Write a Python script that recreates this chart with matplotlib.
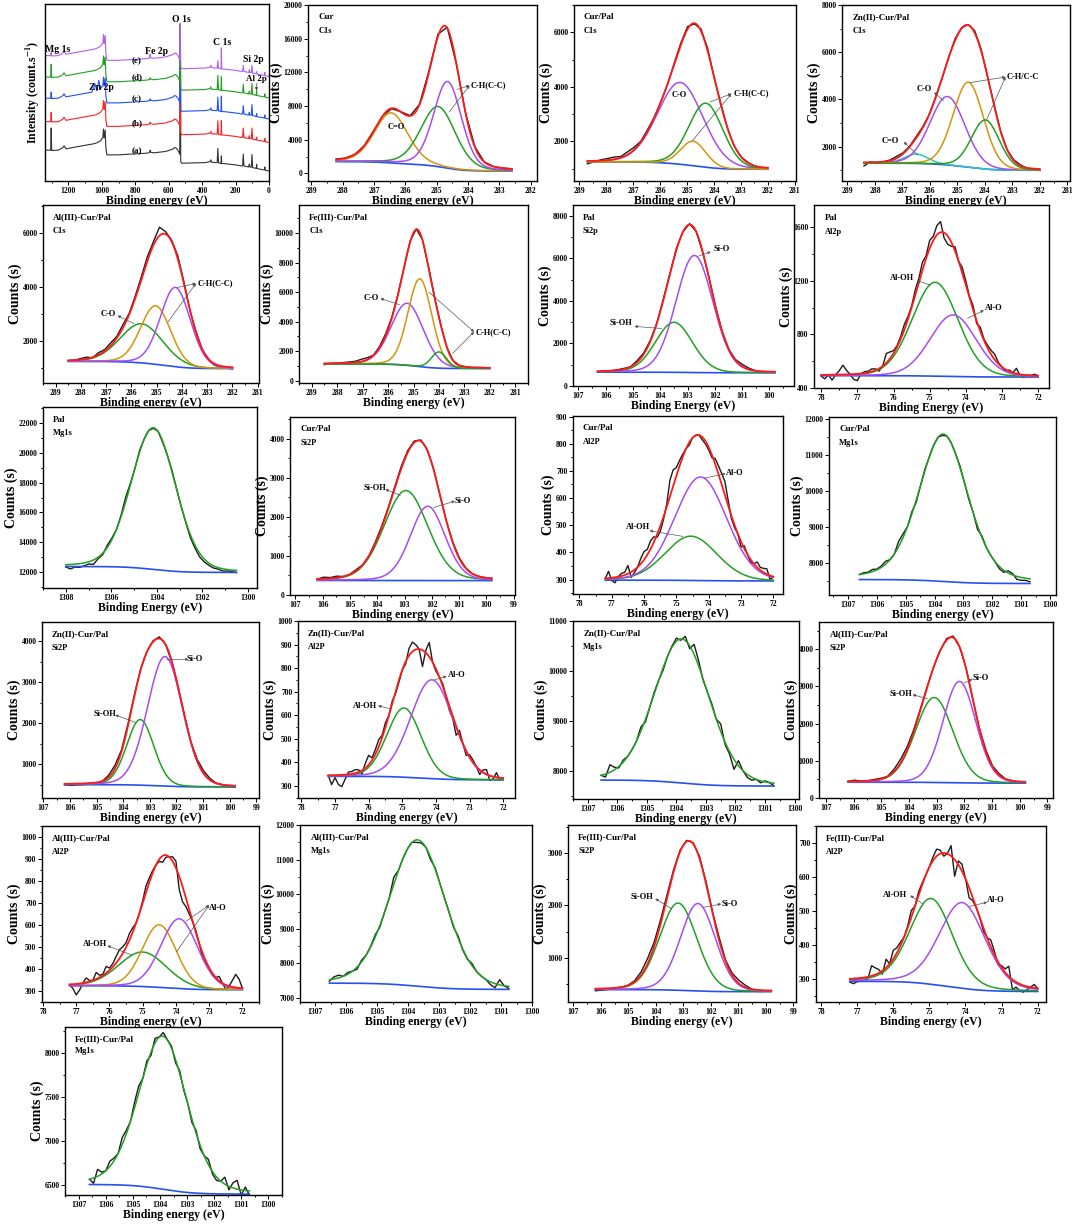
import numpy as np
import matplotlib.pyplot as plt
from matplotlib.ticker import MultipleLocator, FormatStrFormatter

plt.rcParams["font.family"] = ["Liberation Serif", "DejaVu Serif"]
plt.rcParams["font.weight"] = "bold"
plt.rcParams["axes.labelweight"] = "bold"
plt.rcParams["mathtext.fontset"] = "stix"

W, H = 1072, 1228

BLACK = "#1c1c1c"
RED = "#ff1a1a"
BLUE = "#2850f0"
GREEN = "#22a022"
PURPLE = "#a64cf0"
ORANGE = "#d4950a"
CYAN = "#2cc4c4"

# ---------------- survey spectra (relative intensity) ----------------
survey_energy = [1340, 1310, 1306, 1303, 1300, 1260, 1232, 1226, 1215, 1150, 1060, 1040,
                 1030, 1018, 1008, 1005, 994, 990, 986, 980, 976, 970, 900, 800, 730, 714,
                 711, 708, 690, 620, 575, 565, 555, 545, 538, 534, 531, 528, 522, 450, 380,
                 352, 348, 344, 320, 310, 306, 302, 290, 287, 285, 283, 270, 200, 165, 158,
                 154, 150, 125, 121, 118, 115, 106, 102, 98, 80, 76, 74, 72, 40, 28, 25, 22, 0]
survey_base = [92, 92, 92, 92, 91, 92, 100, 105, 96, 102, 110, 112,
               114, 117, 120, 122, 130, 155, 128, 152, 100, 78, 78, 81, 83, 85,
               86, 86, 84, 88, 95, 100, 98, 92, 85, 80, 80, 58, 53, 54, 55,
               58, 63, 56, 55, 55, 55, 54, 53, 53, 53, 52, 52, 48, 45, 45,
               45, 45, 42, 42, 50, 42, 41, 41, 40, 38, 38, 38, 37, 34, 33, 42, 32, 30]
survey_peak_energy = [1303, 1040, 1018, 711, 531, 306, 285, 154, 102, 74]
survey_peak_a = [66, 0, 0, 6, 383, 42, 22, 35, 38, 12]
survey_peak_b = [28, 0, 0, 4, 303, 40, 42, 28, 32, 8]
survey_peak_c = [18, 22, 28, 4, 233, 40, 45, 25, 32, 8]
survey_peak_d = [38, 0, 0, 4, 168, 42, 40, 25, 32, 14]
survey_peak_e = [10, 0, 0, 10, 108, 22, 62, 18, 22, 6]
survey_offset = [0, 85, 155, 218, 282]
survey_names = ["(a)", "(b)", "(c)", "(d)", "(e)"]

# ---------------- C1s fits ----------------
cur_c1s_span = [288.2, 282.6]
cur_c1s_bg = [1400, 280]
cur_c1s_center = [286.45, 284.95, 284.65]
cur_c1s_height = [5950, 7150, 10300]
cur_c1s_fwhm = [1.26, 1.3, 1.05]
cur_c1s_eta = 0.2
cur_c1s_raw = [60, 0, 0, 0, 50, 0, -80, 0, 0, 0, 120, 200, 0, -100, 0, 50, 0, 0, 0, 0]

curpal_c1s_span = [288.7, 282.0]
curpal_c1s_bg = [1250, 980]
curpal_c1s_center = [285.25, 284.3, 284.77]
curpal_c1s_height = [3000, 2350, 900]
curpal_c1s_fwhm = [2.0, 1.5, 1.1]
curpal_c1s_eta = 0.1
curpal_c1s_raw = [-100, -40, 30, 60, 80, 40, 100, 90, 30, 60, 20, 0, -30, 40, 60, 80,
                  -40, 60, 80, -20, 30, 0, -20, 0, 20, -10, -30, 0]

zn_c1s_span = [288.4, 282.0]
zn_c1s_bg = [1300, 1000]
zn_c1s_center = [286.5, 285.36, 284.6, 283.98]
zn_c1s_height = [400, 2900, 3600, 2080]
zn_c1s_fwhm = [1.0, 1.5, 1.3, 1.2]
zn_c1s_eta = 0.1
zn_c1s_raw = [-150, 20, -60, 0, 30, 80, 40, 20, 60, 40, 0, 20, -40, 0, 60, 20, 0, 80,
              60, -30, 40, 0, 0, 30, 40, -20, -40, -60]

al_c1s_span = [288.5, 282.0]
al_c1s_bg = [1250, 985]
al_c1s_center = [285.6, 285.04, 284.26]
al_c1s_height = [1450, 2170, 2940]
al_c1s_fwhm = [2.0, 1.4, 1.4]
al_c1s_eta = 0.1
al_c1s_raw = [0, 0, 40, 60, -20, 80, 50, 100, 60, 120, 40, 80, 100, 150, 120, 300, 80,
              40, 100, 60, -30, 40, -20, 0, -60, -40, -50, -60]

fe_c1s_span = [288.5, 282.0]
fe_c1s_bg = [1140, 830]
fe_c1s_center = [285.25, 284.75, 284.0]
fe_c1s_height = [4200, 5950, 1100]
fe_c1s_fwhm = [1.5, 1.1, 0.7]
fe_c1s_eta = 0.1
fe_c1s_raw = [-80, 0, 0, 40, 60, 80, 150, 120, 0, 80, 120, 60, 40, 0, 50, 0, 0, 80, 60,
              0, 0, 0, 0, 0, -30, 0, 0, -30]

# ---------------- Si2p fits ----------------
pal_si2p_span = [106.3, 99.8]
pal_si2p_bg = [650, 620]
pal_si2p_center = [103.5, 102.75]
pal_si2p_height = [2350, 5500]
pal_si2p_fwhm = [1.6, 1.6]
pal_si2p_eta = 0.1
pal_si2p_raw = [-40, 0, 0, 20, 30, 0, 80, 60, 50, 0, 60, 40, 80, 0, 40, 0, -40, 50, 20,
                0, 0, 40, 100, 60, 0, -60, -20, 0]

curpal_si2p_span = [106.2, 99.8]
curpal_si2p_bg = [372, 368]
curpal_si2p_center = [102.95, 102.15]
curpal_si2p_height = [2300, 1900]
curpal_si2p_fwhm = [1.9, 1.5]
curpal_si2p_eta = 0.15
curpal_si2p_raw = [0, 40, 20, 40, 0, 0, 30, 0, 0, 40, 40, 30, 40, 60, 50, 40, 30, 20, 20,
                   0, 0, 20, 20, 10, 0, 0, 0, 0]

zn_si2p_span = [106.2, 99.8]
zn_si2p_bg = [500, 445]
zn_si2p_center = [103.36, 102.43]
zn_si2p_height = [1600, 3160]
zn_si2p_fwhm = [1.2, 1.55]
zn_si2p_eta = 0.1
zn_si2p_raw = [-20, -40, -30, -30, -10, -20, 0, 50, 80, 40, 50, 30, 20, 0, 20, 40, 0, -20,
               0, 20, 0, 40, 60, 40, 0, 0, -30, -40]

al_si2p_span = [106.2, 99.8]
al_si2p_bg = [425, 400]
al_si2p_center = [103.09, 102.18]
al_si2p_height = [2285, 2730]
al_si2p_fwhm = [1.6, 1.4]
al_si2p_eta = 0.1
al_si2p_raw = [0, 30, 0, 0, 20, 20, 0, 60, 100, 80, 60, 40, 20, 0, 0, 40, 40, 0, 20, 0, 0,
               40, 20, 40, 0, 0, -20, 0]

fe_si2p_span = [106.2, 99.8]
fe_si2p_bg = [385, 345]
fe_si2p_center = [103.19, 102.47]
fe_si2p_height = [1675, 1680]
fe_si2p_fwhm = [1.6, 1.5]
fe_si2p_eta = 0.1
fe_si2p_raw = [-40, -30, -20, 0, 0, 0, 20, 60, 100, 80, 80, 60, 40, 30, 20, 20, 40, 40, 20,
               60, 20, 40, 60, 40, 0, -30, -20, 0]

# ---------------- Al2p fits ----------------
pal_al2p_span = [78.0, 72.0]
pal_al2p_bg = [492, 482]
pal_al2p_center = [74.85, 74.35]
pal_al2p_height = [700, 460]
pal_al2p_fwhm = [1.5, 1.5]
pal_al2p_eta = 0.1
pal_al2p_raw = [-10, -30, 0, -40, 0, 30, 70, 30, 0, -40, -50, 0, 10, 10, 20, 10, -20, 0,
                70, 50, 20, 10, 20, 40, 20, 10, 40, 30, 60, 20, 60, 30, 70, 80, -40, -60,
                -30, 30, 0, 40, 30, 10, 30, -20, 30, 10, 20, 30, 40, 10, 0, -10, 10, 0,
                40, -10, -20, 0, 0, 10, 0]

curpal_al2p_span = [77.2, 72.0]
curpal_al2p_bg = [298, 295]
curpal_al2p_center = [74.55, 74.25]
curpal_al2p_height = [163, 381]
curpal_al2p_fwhm = [1.9, 1.9]
curpal_al2p_eta = 0.1
curpal_al2p_raw = [0, 25, -10, -20, 0, 10, 10, 30, -20, -10, 0, 20, 30, 20, 30, 20, -10,
                   -20, -10, 10, 60, 60, 30, 20, 10, 0, -10, 0, 0, 0, -10, -10, -10, -10,
                   20, 30, 40, 50, 20, -10, -10, 0, -20, 10, 0, -10, 0, 20, 10, 15, 20,
                   -15, 0]

zn_al2p_span = [77.2, 72.0]
zn_al2p_bg = [340, 325]
zn_al2p_center = [74.95, 74.12]
zn_al2p_height = [294, 420]
zn_al2p_fwhm = [1.2, 1.5]
zn_al2p_eta = 0.1
zn_al2p_raw = [0, -40, -10, -40, -50, -20, 10, 10, 15, 10, -15, 20, 40, 10, 20, 30, 10,
               20, 0, 10, -10, -10, 0, -10, 30, 40, 20, 0, -70, 10, 60, 0, -10, 0, 10, 0,
               -20, -10, -40, 20, 0, -20, 10, 10, 0, -20, 10, 20, -20, -10, 20, -10, 0]

al_al2p_span = [77.2, 72.0]
al_al2p_bg = [323, 305]
al_al2p_center = [75.0, 74.5, 73.9]
al_al2p_height = [157, 285, 318]
al_al2p_fwhm = [1.7, 1.2, 1.3]
al_al2p_eta = 0.1
al_al2p_raw = [0, -20, -50, -30, 0, 20, 5, 0, 30, 10, 5, 30, 10, 15, 30, 40, 30, 20, 30,
               20, 0, 0, 10, 30, 20, 10, 0, -10, -30, -10, 0, 20, 30, -60, -70, -40, -20,
               0, 10, 0, -20, -10, 0, -10, 0, 20, 0, -20, 0, 30, 60, 40, 0]

fe_al2p_span = [77.2, 72.0]
fe_al2p_bg = [292, 262]
fe_al2p_center = [74.95, 74.09]
fe_al2p_height = [253, 253]
fe_al2p_fwhm = [1.4, 1.5]
fe_al2p_eta = 0.2
fe_al2p_raw = [-10, -15, -10, -10, -10, -5, 30, 20, 10, -10, 25, 0, 25, 15, 10, 0, 5, 20,
               0, 10, 5, 0, 0, 10, 20, 10, -10, 0, 30, -50, 10, 20, 0, -30, -10, 0, 0,
               -10, 0, 20, 10, -10, 5, 10, 30, -30, -15, -20, -20, -10, 0, 10, 0]

# ---------------- Mg1s fits ----------------
pal_mg1s_span = [1308.0, 1300.5]
pal_mg1s_bg = [12350, 11950]
pal_mg1s_center = [1304.15]
pal_mg1s_height = [9550]
pal_mg1s_fwhm = [2.3]
pal_mg1s_eta = 0.15
pal_mg1s_raw = [-150, -300, -200, -250, -200, -150, -300, -100, -100, 150, 100, 0, 100,
                300, 100, 0, 100, 0, 0, -50, 0, -100, 0, 100, 50, 0, -50, -200, -200, -250,
                -200, -150, -150, -100, -150, -100, -100, -150]

curpal_mg1s_span = [1306.6, 1300.7]
curpal_mg1s_bg = [7530, 7420]
curpal_mg1s_center = [1303.7]
curpal_mg1s_height = [4100]
curpal_mg1s_fwhm = [2.0]
curpal_mg1s_eta = 0.3
curpal_mg1s_raw = [0, 30, 20, 60, 20, 40, 80, 0, 0, 150, 100, 0, 60, -60, 0, 40, 0, 0, 0,
                   -40, 0, 0, 0, 40, 0, -40, 0, -100, 40, 0, 0, 0, -60, -60, 60, 40, -80,
                   -80, -60, -80]

zn_mg1s_span = [1306.55, 1300.7]
zn_mg1s_bg = [7810, 7690]
zn_mg1s_center = [1303.82]
zn_mg1s_height = [2890]
zn_mg1s_fwhm = [2.2]
zn_mg1s_eta = 0.15
zn_mg1s_raw = [0, -60, 150, 50, -30, 40, 0, 0, 0, 80, -50, 0, 30, 0, -50, 0, 20, 60, -30,
               80, -60, 200, 100, -30, 0, 40, 0, 150, -50, -50, -200, 100, 0, -60, -60, 0,
               -40, 20, 0, -50]

al_mg1s_span = [1306.55, 1300.75]
al_mg1s_bg = [7430, 7250]
al_mg1s_center = [1303.7]
al_mg1s_height = [4230]
al_mg1s_fwhm = [2.1]
al_mg1s_eta = 0.15
al_mg1s_raw = [-40, 60, 80, 0, 50, 0, -60, 50, 0, 20, 60, -50, 0, 0, 200, 0, 0, 0, 0, -80,
               -40, 0, -80, 40, 0, 0, 0, -50, 60, -30, -30, 60, 0, 0, 0, -80, -120, 150, 0,
               -60]

fe_mg1s_span = [1306.6, 1300.7]
fe_mg1s_bg = [6500, 6390]
fe_mg1s_center = [1303.9]
fe_mg1s_height = [1750]
fe_mg1s_fwhm = [2.1]
fe_mg1s_eta = 0.2
fe_mg1s_raw = [0, -60, 80, 20, 0, 60, 30, 0, 80, 40, 0, 60, 80, 0, 40, -40, 50, 0, 40, 0,
               20, -40, 30, -20, 0, -40, 30, -40, 0, 60, -30, -40, 0, 80, -40, 60, 100, -60,
               40, -50]


def pv(e, c, h, w, eta):
    d2 = 4 * (e - c) ** 2 / w ** 2
    return h * ((1 - eta) * np.exp(-np.log(2) * d2) + eta / (1 + d2))


def fit_curves(e, center, height, fwhm, bg, eta):
    comps = [pv(e, c, h, w, eta) for c, h, w in zip(center, height, fwhm)]
    total = np.sum(comps, axis=0)
    cum = np.cumsum(total[::-1])[::-1]
    back = bg[1] + (bg[0] - bg[1]) * cum / cum[0]
    return back, comps


fig = plt.figure(figsize=(W / 100, H / 100), dpi=100)


def add_ax(rect):
    l, t, r, b = rect
    return fig.add_axes([l / W, 1 - b / H, (r - l) / W, (b - t) / H])


def style_ax(ax, xlim, ylim, xstep, ystep, xlabel, ylabel):
    ax.set_xlim(*xlim)
    ax.set_ylim(*ylim)
    ax.xaxis.set_major_locator(MultipleLocator(xstep))
    ax.xaxis.set_minor_locator(MultipleLocator(xstep / 2))
    ax.xaxis.set_major_formatter(FormatStrFormatter("%d"))
    if ystep:
        ax.yaxis.set_major_locator(MultipleLocator(ystep))
        ax.yaxis.set_minor_locator(MultipleLocator(ystep / 2))
        ax.yaxis.set_major_formatter(FormatStrFormatter("%d"))
    else:
        ax.set_yticks([])
    ax.tick_params(which="both", direction="out", top=False, right=False,
                   labelsize=5.5, width=0.7, pad=1.0)
    ax.tick_params(which="major", length=3)
    ax.tick_params(which="minor", length=1.6)
    for s in ax.spines.values():
        s.set_linewidth(1.0)
    ax.set_xlabel(xlabel, fontsize=8.5, labelpad=0.5)
    ax.set_ylabel(ylabel, fontsize=10, labelpad=0.5)


# ---------------- survey panel ----------------
ax = add_ax((45, 4, 269, 181))
en = np.array(survey_energy, float)
idx = [survey_energy.index(p) for p in survey_peak_energy]
survey_colors = ["#333333", "#ff2020", "#2050ff", "#20a020", "#b05ff0"]
label_y = [88, 173, 243, 311, 358]
for off, spikes, col, name, ly in zip(survey_offset,
                                      [survey_peak_a, survey_peak_b, survey_peak_c,
                                       survey_peak_d, survey_peak_e],
                                      survey_colors, survey_names, label_y):
    y = np.array(survey_base, float) + off
    y[idx] += spikes
    ax.plot(en, y, color=col, lw=0.8)
    ax.text(790, ly, name, fontsize=6.5, ha="center", va="center")
for txt, x, y in [("Mg 1s", 1262, 393), ("Fe 2p", 672, 385), ("O 1s", 522, 483),
                  ("C 1s", 283, 413), ("Si 2p", 92, 363), ("Zn 2p", 1000, 278)]:
    ax.text(x, y, txt, fontsize=7, ha="center", va="center")
ax.text(76, 303, "Al 2p", fontsize=6.5, ha="center", va="center")
ax.annotate("", xy=(76, 270), xytext=(72, 292),
            arrowprops=dict(arrowstyle="-|>", color="#444444", lw=0.5, mutation_scale=4,
                            shrinkA=0, shrinkB=0))
style_ax(ax, (1340, 0), (0, 528), 200, None, "Binding energy (eV)",
         r"Intensity (count.s$^{\mathbf{-1}}$)")
ax.yaxis.label.set_fontsize(8.5)
ax.yaxis.labelpad = 2

# ---------------- fitted panels ----------------
BE = "Binding energy (eV)"
BE2 = "Binding Energy (eV)"

panels = [
    dict(d="cur_c1s", rect=(308, 5, 537, 181), xlim=(289.1, 281.8), ylim=(-900, 20000),
         xstep=1, ystep=4000, title=("Cur", "C1s"), xlabel=BE, colors=[ORANGE, GREEN, PURPLE],
         notes=[("C=O", 286.3, 5480, []),
                ("C-H(C-C)", 283.35, 10440, [(283.95, 10440, 284.35, 9960),
                                             (283.95, 10440, 284.6, 7280)])]),
    dict(d="curpal_c1s", rect=(574, 5, 796, 181), xlim=(289.2, 280.95), ylim=(550, 7000),
         xstep=1, ystep=2000, title=("Cur/Pal", "C1s"), xlabel=BE,
         colors=[PURPLE, GREEN, ORANGE],
         notes=[("C-O", 285.3, 3720, []),
                ("C-H(C-C)", 282.62, 3750, [(283.35, 3750, 284.16, 3440),
                                            (283.35, 3750, 284.8, 2025)])]),
    dict(d="zn_c1s", rect=(842, 5, 1070, 181), xlim=(289.2, 280.9), ylim=(545, 8000),
         xstep=1, ystep=2000, title=("Zn(II)-Cur/Pal", "C1s"), xlabel=BE,
         colors=[CYAN, PURPLE, ORANGE, GREEN],
         notes=[("C=O", 287.45, 2240, [(286.95, 2200, 286.45, 1650)]),
                ("C-O", 286.2, 4430, [(285.85, 4300, 285.5, 3950)]),
                ("C-H/C-C", 282.6, 4950, [(283.25, 4950, 284.55, 4710),
                                          (283.25, 4950, 283.95, 3100)])]),
    dict(d="al_c1s", rect=(43, 205, 259, 383), xlim=(289.5, 280.95), ylim=(450, 7050),
         xstep=1, ystep=2000, title=("Al(III)-Cur/Pal", "C1s"), xlabel=BE,
         colors=[GREEN, ORANGE, PURPLE],
         notes=[("C-O", 286.9, 3000, [(286.55, 2950, 285.9, 2650)]),
                ("C-H(C-C)", 282.68, 4140, [(283.45, 4140, 284.2, 3990),
                                            (283.45, 4140, 284.55, 2716)])]),
    dict(d="fe_c1s", rect=(299, 205, 528, 383), xlim=(289.5, 280.5), ylim=(-150, 11900),
         xstep=1, ystep=2000, title=("Fe(III)-Cur/Pal", "C1s"), xlabel=BE,
         colors=[PURPLE, ORANGE, GREEN],
         notes=[("C-O", 286.65, 5590, [(286.3, 5570, 285.55, 5150)]),
                ("C-H(C-C)", 281.88, 3310, [(282.62, 3310, 284.39, 5996),
                                            (282.62, 3310, 283.46, 1857)])]),
    dict(d="pal_si2p", rect=(573, 205, 794, 386), xlim=(107.2, 99.1), ylim=(0, 8500),
         xstep=1, ystep=2000, title=("Pal", "Si2p"), xlabel=BE2, colors=[GREEN, PURPLE],
         notes=[("Si-OH", 105.45, 2940, [(104.95, 2800, 103.95, 2700)]),
                ("Si-O", 101.75, 6430, [(102.15, 6300, 102.6, 6100)])]),
    dict(d="pal_al2p", rect=(814, 205, 1049, 388), xlim=(78.2, 71.7), ylim=(400, 1765),
         xstep=1, ystep=400, title=("Pal", "Al2p"), xlabel=BE2, colors=[GREEN, PURPLE],
         notes=[("Al-OH", 75.78, 1220, [(75.35, 1200, 75.0, 1170)]),
                ("Al-O", 73.24, 1000, [(73.5, 980, 73.95, 920)])]),
    dict(d="pal_mg1s", rect=(43, 407, 257, 588), xlim=(1309, 1299.6), ylim=(10900, 23100),
         xstep=2, ystep=2000, title=("Pal", "Mg1s"), xlabel=BE2, colors=[GREEN], notes=[]),
    dict(d="curpal_si2p", rect=(290, 417, 515, 595), xlim=(107.2, 98.95), ylim=(0, 4550),
         xstep=1, ystep=1000, title=("Cur/Pal", "Si2P"), xlabel=BE, colors=[GREEN, PURPLE],
         notes=[("Si-OH", 104.1, 2745, [(103.7, 2700, 103.15, 2549)]),
                ("Si-O", 100.87, 2413, [(101.15, 2400, 101.94, 2234)])]),
    dict(d="curpal_al2p", rect=(573, 416, 783, 594), xlim=(78.2, 71.7), ylim=(247, 902),
         xstep=1, ystep=100, title=("Cur/Pal", "Al2P"), xlabel=BE, colors=[GREEN, PURPLE],
         notes=[("Al-OH", 76.2, 495, [(75.83, 480, 74.8, 459)]),
                ("Al-O", 73.2, 692, [(73.48, 690, 74.14, 673)])]),
    dict(d="curpal_mg1s", rect=(829, 417, 1056, 595), xlim=(1307.65, 1299.8),
         ylim=(7100, 12050), xstep=1, ystep=1000, title=("Cur/Pal", "Mg1s"), xlabel=BE,
         colors=[GREEN], notes=[]),
    dict(d="zn_si2p", rect=(42, 622, 259, 798), xlim=(107.05, 98.9), ylim=(175, 4470),
         xstep=1, ystep=1000, title=("Zn(II)-Cur/Pal", "Si2P"), xlabel=BE,
         colors=[GREEN, PURPLE],
         notes=[("Si-OH", 104.7, 2227, [(104.3, 2200, 103.55, 2022)]),
                ("Si-O", 101.3, 3571, [(101.55, 3560, 102.36, 3555)])]),
    dict(d="zn_al2p", rect=(298, 621, 515, 798), xlim=(78.1, 71.65), ylim=(248, 1000),
         xstep=1, ystep=100, title=("Zn(II)-Cur/Pal", "Al2P"), xlabel=BE,
         colors=[GREEN, PURPLE],
         notes=[("Al-OH", 76.1, 640, [(75.72, 640, 75.32, 626)]),
                ("Al-O", 73.38, 770, [(73.68, 765, 74.05, 750)])]),
    dict(d="zn_mg1s", rect=(573, 621, 799, 799), xlim=(1307.5, 1299.85), ylim=(7430, 11000),
         xstep=1, ystep=1000, title=("Zn(II)-Cur/Pal", "Mg1s"), xlabel=BE, colors=[GREEN],
         notes=[]),
    dict(d="al_si2p", rect=(819, 622, 1053, 798), xlim=(107.25, 98.8), ylim=(0, 4735),
         xstep=1, ystep=1000, title=("Al(III)-Cur/Pal", "Si2P"), xlabel=BE,
         colors=[GREEN, PURPLE],
         notes=[("Si-OH", 104.3, 2807, [(103.87, 2780, 103.33, 2672)]),
                ("Si-O", 101.4, 3228, [(101.7, 3200, 102.0, 3094)])]),
    dict(d="al_al2p", rect=(42, 826, 259, 1002), xlim=(78.03, 71.5), ylim=(249, 1050),
         xstep=1, ystep=100, title=("Al(III)-Cur/Pal", "Al2P"), xlabel=BE,
         colors=[GREEN, ORANGE, PURPLE],
         notes=[("Al-OH", 76.43, 511, [(76.06, 505, 75.33, 463)]),
                ("Al-O", 72.73, 676, [(73.0, 690, 73.68, 618), (73.0, 690, 73.98, 478)])]),
    dict(d="al_mg1s", rect=(300, 825, 532, 1002), xlim=(1307.5, 1300.0), ylim=(6885, 12000),
         xstep=1, ystep=1000, title=("Al(III)-Cur/Pal", "Mg1s"), xlabel=BE, colors=[GREEN],
         notes=[]),
    dict(d="fe_si2p", rect=(568, 825, 796, 1002), xlim=(107.2, 98.9), ylim=(147, 3545),
         xstep=1, ystep=1000, title=("Fe(III)-Cur/Pal", "Si2P"), xlabel=BE,
         colors=[GREEN, PURPLE],
         notes=[("Si-OH", 104.5, 2160, [(104.02, 2130, 103.43, 1936)]),
                ("Si-O", 101.3, 2032, [(101.62, 2030, 102.29, 1961)])]),
    dict(d="fe_al2p", rect=(816, 826, 1046, 1002), xlim=(78.14, 71.77), ylim=(231, 750),
         xstep=1, ystep=100, title=("Fe(III)-Cur/Pal", "Al2P"), xlabel=BE,
         colors=[GREEN, PURPLE],
         notes=[("Al-OH", 75.95, 546, [(75.53, 545, 75.18, 520)]),
                ("Al-O", 73.15, 531, [(73.4, 525, 73.89, 513)])]),
    dict(d="fe_mg1s", rect=(65, 1027, 282, 1195), xlim=(1307.5, 1299.5), ylim=(6380, 8300),
         xstep=1, ystep=500, title=("Fe(III)-Cur/Pal", "Mg1s"), xlabel=BE, colors=[GREEN],
         notes=[]),
]

g = globals()
for p in panels:
    n = p["d"]
    span, bg = g[n + "_span"], g[n + "_bg"]
    center, height, fwhm = g[n + "_center"], g[n + "_height"], g[n + "_fwhm"]
    eta, raw = g[n + "_eta"], g[n + "_raw"]

    ax = add_ax(p["rect"])
    er = np.linspace(span[0], span[1], len(raw))
    back_r, comps_r = fit_curves(er, center, height, fwhm, bg, eta)
    ax.plot(er, back_r + np.sum(comps_r, axis=0) + np.array(raw), color=BLACK, lw=1.0)

    e = np.linspace(span[0], span[1], 400)
    back, comps = fit_curves(e, center, height, fwhm, bg, eta)
    ax.plot(e, back, color=BLUE, lw=1.2)
    for comp, col in zip(comps, p["colors"]):
        ax.plot(e, back + comp, color=col, lw=1.1)
    if len(comps) > 1:
        ax.plot(e, back + np.sum(comps, axis=0), color=RED, lw=1.3)

    for label, tx, ty, arrows in p["notes"]:
        ax.text(tx, ty, label, fontsize=6, ha="center", va="center")
        for sx, sy, cx, cy in arrows:
            ax.annotate("", xy=(sx, sy), xytext=(cx, cy),
                        arrowprops=dict(arrowstyle="-|>", color="#555555", lw=0.5,
                                        mutation_scale=4, shrinkA=0, shrinkB=0))

    ax.text(0.045, 0.93, p["title"][0], transform=ax.transAxes, fontsize=6.5,
            ha="left", va="center")
    ax.text(0.045, 0.855, p["title"][1], transform=ax.transAxes, fontsize=6,
            ha="left", va="center")
    style_ax(ax, p["xlim"], p["ylim"], p["xstep"], p["ystep"], p["xlabel"], "Counts (s)")

fig.savefig("out.png", dpi=100)
